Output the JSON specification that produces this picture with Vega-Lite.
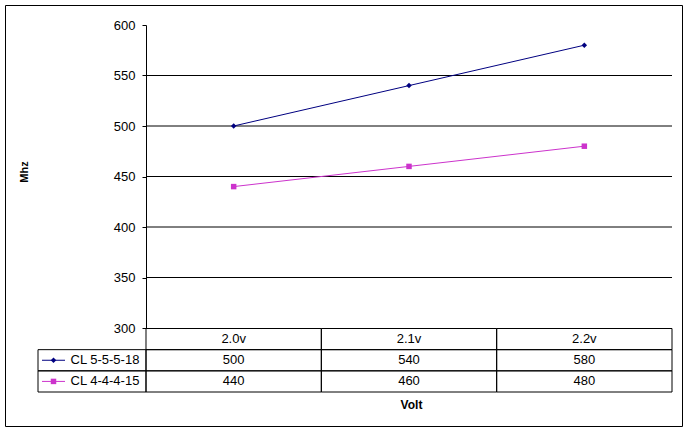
{
  "$schema": "https://vega.github.io/schema/vega-lite/v6.json",
  "width": 677,
  "height": 421,
  "autosize": {"type": "none"},
  "padding": {"left": 5, "top": 5, "right": 6, "bottom": 5},
  "background": "white",
  "config": {
    "view": {"stroke": "black", "strokeWidth": 1},
    "font": "Liberation Sans",
    "text": {"font": "Liberation Sans", "fontSize": 13, "color": "black"}
  },
  "datasets": {
    "mhz": [
      {"volt": "2.0v", "series": "CL 5-5-5-18", "mhz": 500},
      {"volt": "2.1v", "series": "CL 5-5-5-18", "mhz": 540},
      {"volt": "2.2v", "series": "CL 5-5-5-18", "mhz": 580},
      {"volt": "2.0v", "series": "CL 4-4-4-15", "mhz": 440},
      {"volt": "2.1v", "series": "CL 4-4-4-15", "mhz": 460},
      {"volt": "2.2v", "series": "CL 4-4-4-15", "mhz": 480}
    ],
    "grid": [
      {"mhz": 350}, {"mhz": 400}, {"mhz": 450}, {"mhz": 500}, {"mhz": 550}
    ]
  },
  "resolve": {
    "scale": {"x": "independent", "y": "independent"},
    "axis": {"x": "independent", "y": "independent"}
  },
  "layer": [
    {
      "layer": [
        {
          "data": {"name": "grid"},
          "mark": {"type": "rule", "color": "black", "strokeWidth": 1},
          "encoding": {
            "x": {"datum": "2.0v", "type": "nominal", "bandPosition": 0},
            "x2": {"datum": "2.2v", "bandPosition": 1},
            "y": {"field": "mhz", "type": "quantitative"},
            "color": {"value": "black"}
          }
        },
        {
          "data": {"name": "mhz"},
          "mark": {"type": "line", "strokeWidth": 1},
          "encoding": {
            "x": {"field": "volt", "type": "nominal", "bandPosition": 0.5},
            "y": {"field": "mhz", "type": "quantitative"},
            "color": {"field": "series", "type": "nominal"}
          }
        },
        {
          "data": {"name": "mhz"},
          "mark": {"type": "point", "filled": true, "opacity": 1, "size": 30},
          "encoding": {
            "x": {"field": "volt", "type": "nominal", "bandPosition": 0.5},
            "y": {"field": "mhz", "type": "quantitative"},
            "color": {"field": "series", "type": "nominal"},
            "shape": {
              "field": "series",
              "type": "nominal",
              "scale": {"domain": ["CL 5-5-5-18", "CL 4-4-4-15"], "range": ["diamond", "square"]},
              "legend": null
            }
          }
        }
      ],
      "encoding": {
        "x": {
          "field": "volt",
          "type": "nominal",
          "scale": {"type": "band", "domain": ["2.0v", "2.1v", "2.2v"], "range": [141, 667], "paddingInner": 0, "paddingOuter": 0},
          "axis": {
            "orient": "bottom",
            "domain": false, "ticks": false, "labels": false, "grid": false,
            "title": "Volt",
            "titleFont": "Liberation Sans", "titleFontSize": 12, "titleFontWeight": "bold", "titleColor": "black",
            "titleX": 406, "titleY": -22, "titleBaseline": "middle", "titleAlign": "center"
          }
        },
        "y": {
          "field": "mhz",
          "type": "quantitative",
          "scale": {"domain": [300, 600], "range": [323, 20], "nice": false, "zero": false},
          "axis": {
            "orient": "left",
            "offset": -141,
            "values": [300, 350, 400, 450, 500, 550, 600],
            "grid": false,
            "domainColor": "black", "domainWidth": 1,
            "tickColor": "black", "tickSize": 4, "tickWidth": 1,
            "labelFont": "Liberation Sans", "labelFontSize": 13, "labelColor": "black", "labelPadding": 7,
            "title": "Mhz",
            "titleFont": "Liberation Sans", "titleFontSize": 11, "titleFontWeight": "bold", "titleColor": "black",
            "titleX": -122, "titleY": 166.5, "titleAngle": -90, "titleAlign": "center", "titleBaseline": "middle"
          }
        },
        "color": {
          "field": "series",
          "type": "nominal",
          "scale": {"domain": ["CL 5-5-5-18", "CL 4-4-4-15"], "range": ["#000080", "#CC33CC"]},
          "legend": null
        }
      }
    },
    {
      "data": {"name": "mhz"},
      "layer": [
        {
          "mark": {"type": "rect", "fill": "white", "fillOpacity": 0, "stroke": "black", "strokeWidth": 1},
          "encoding": {
            "x": {"field": "volt", "type": "nominal"},
            "y": {"field": "series", "type": "nominal"}
          }
        },
        {
          "transform": [{"filter": "datum.series === 'CL 5-5-5-18'"}],
          "mark": {"type": "rect", "fill": "white", "fillOpacity": 0, "stroke": "black", "strokeWidth": 1},
          "encoding": {
            "x": {"field": "volt", "type": "nominal"},
            "y": {"datum": "header", "type": "nominal"}
          }
        },
        {
          "mark": {"type": "text", "align": "center", "baseline": "middle", "fontSize": 13, "font": "Liberation Sans", "color": "black"},
          "encoding": {
            "x": {"field": "volt", "type": "nominal", "bandPosition": 0.5},
            "y": {"field": "series", "type": "nominal", "bandPosition": 0.5},
            "text": {"field": "mhz", "type": "quantitative"}
          }
        },
        {
          "transform": [{"filter": "datum.series === 'CL 5-5-5-18'"}],
          "mark": {"type": "text", "align": "center", "baseline": "middle", "fontSize": 13, "font": "Liberation Sans", "color": "black"},
          "encoding": {
            "x": {"field": "volt", "type": "nominal", "bandPosition": 0.5},
            "y": {"datum": "header", "type": "nominal", "bandPosition": 0.5},
            "text": {"field": "volt", "type": "nominal"}
          }
        }
      ],
      "encoding": {
        "x": {
          "field": "volt",
          "type": "nominal",
          "scale": {"type": "band", "domain": ["2.0v", "2.1v", "2.2v"], "range": [141, 667], "paddingInner": 0, "paddingOuter": 0},
          "axis": null
        },
        "y": {
          "field": "series",
          "type": "nominal",
          "scale": {"type": "band", "domain": ["header", "CL 5-5-5-18", "CL 4-4-4-15"], "range": [323.5, 387], "paddingInner": 0, "paddingOuter": 0},
          "axis": null
        }
      }
    },
    {
      "data": {"name": "mhz"},
      "transform": [{"filter": "datum.volt === '2.0v'"}],
      "layer": [
        {
          "mark": {"type": "rect", "fill": "white", "fillOpacity": 0, "stroke": "black", "strokeWidth": 1},
          "encoding": {
            "x": {"datum": "legend", "type": "nominal"},
            "y": {"field": "series", "type": "nominal"}
          }
        },
        {
          "mark": {"type": "rule", "strokeWidth": 1, "xOffset": 4, "x2Offset": 27},
          "encoding": {
            "x": {"datum": "legend", "type": "nominal", "bandPosition": 0},
            "x2": {"datum": "legend", "bandPosition": 0},
            "y": {"field": "series", "type": "nominal", "bandPosition": 0.5},
            "color": {"field": "series", "type": "nominal"}
          }
        },
        {
          "mark": {"type": "point", "filled": true, "opacity": 1, "size": 30, "xOffset": 15.5},
          "encoding": {
            "x": {"datum": "legend", "type": "nominal", "bandPosition": 0},
            "y": {"field": "series", "type": "nominal", "bandPosition": 0.5},
            "color": {"field": "series", "type": "nominal"},
            "shape": {
              "field": "series",
              "type": "nominal",
              "scale": {"domain": ["CL 5-5-5-18", "CL 4-4-4-15"], "range": ["diamond", "square"]},
              "legend": null
            }
          }
        },
        {
          "mark": {"type": "text", "align": "left", "baseline": "middle", "dx": 32.5, "fontSize": 13, "font": "Liberation Sans", "color": "black"},
          "encoding": {
            "x": {"datum": "legend", "type": "nominal", "bandPosition": 0},
            "y": {"field": "series", "type": "nominal", "bandPosition": 0.5},
            "text": {"field": "series", "type": "nominal"}
          }
        }
      ],
      "encoding": {
        "x": {
          "datum": "legend",
          "type": "nominal",
          "scale": {"type": "band", "domain": ["legend"], "range": [33, 141], "paddingInner": 0, "paddingOuter": 0},
          "axis": null
        },
        "y": {
          "field": "series",
          "type": "nominal",
          "scale": {"type": "band", "domain": ["header", "CL 5-5-5-18", "CL 4-4-4-15"], "range": [323.5, 387], "paddingInner": 0, "paddingOuter": 0},
          "axis": null
        }
      }
    }
  ]
}
